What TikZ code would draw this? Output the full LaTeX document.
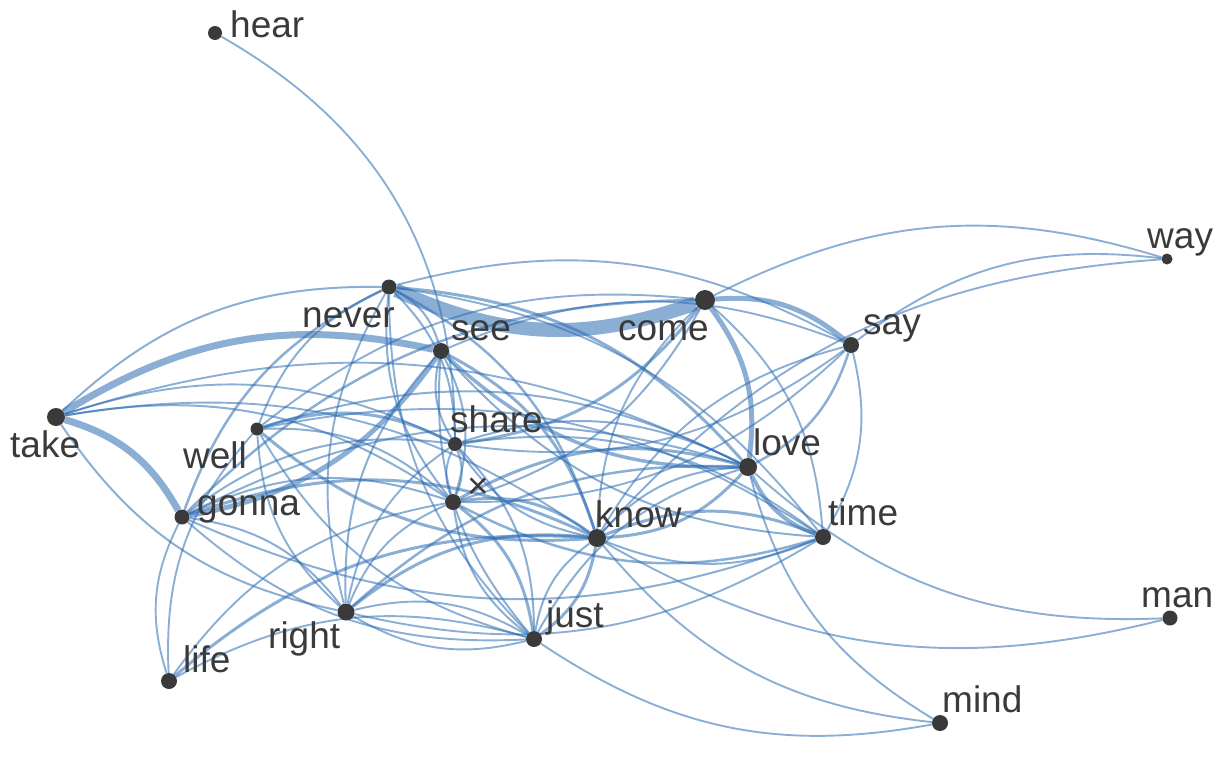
\documentclass[tikz,border=0pt]{standalone}
\usepackage{fontspec}
\setmainfont{Liberation Sans}
\usetikzlibrary{backgrounds}
\definecolor{edgeblue}{RGB}{44,108,178}
\definecolor{dotgray}{RGB}{58,58,58}

\begin{document}
\begin{tikzpicture}[
       x = 1pt, y = -1pt,
 word/.style = {circle, fill=dotgray, inner sep=0pt, minimum size=#1},
 word/.default = 16pt,
  tag/.style = {anchor=base west, inner sep=0pt, text=dotgray,
                font=\fontsize{37}{44}\selectfont},
 link/.style = {draw=edgeblue, draw opacity=0.55, line width=#1, bend left=22},
 link/.default = 1.9pt
                    ]
\useasboundingbox (0,0) rectangle (1228,758);
% words
\node (hear)  [word=14pt] at (215,33)  {};
\node (never) [word=15pt] at (389,287) {};
\node (come)  [word=20pt] at (705,300) {};
\node (say)   [word=16pt] at (851,345) {};
\node (way)   [word=11pt] at (1167,259) {};
\node (see)   [word=16pt] at (441,351) {};
\node (take)  [word=18pt] at (56,417)  {};
\node (well)  [word=13pt] at (257,429) {};
\node (share) [word=14pt] at (455,444) {};
\node (love)  [word=18pt] at (748,467) {};
\node (x)     [word=16pt] at (453,502) {};
\node (gonna) [word=15pt] at (182,517) {};
\node (know)  [word=18pt] at (597,538) {};
\node (time)  [word=16pt] at (823,537) {};
\node (man)   [word=15pt] at (1170,618) {};
\node (right) [word=17pt] at (346,612) {};
\node (just)  [word=16pt] at (534,639) {};
\node (life)  [word=16pt] at (169,681) {};
\node (mind)  [word=16pt] at (940,723) {};
% labels
\node (hear-l)  [tag] at (230,37)  {hear};
\node (never-l) [tag] at (302,327) {never};
\node (come-l)  [tag] at (618,340) {come};
\node (say-l)   [tag] at (863,334) {say};
\node (way-l)   [tag] at (1147,248) {way};
\node (see-l)   [tag] at (451,340) {see};
\node (take-l)  [tag] at (10,457)  {take};
\node (well-l)  [tag] at (183,468) {well};
\node (share-l) [tag] at (450,432) {share};
\node (love-l)  [tag] at (753,455) {love};
\node (x-l)     [tag, anchor=center] at (478,488) {×};
\node (gonna-l) [tag] at (197,515) {gonna};
\node (know-l)  [tag] at (595,527) {know};
\node (time-l)  [tag] at (828,525) {time};
\node (man-l)   [tag] at (1141,607) {man};
\node (right-l) [tag] at (268,648) {right};
\node (just-l)  [tag] at (546,627) {just};
\node (life-l)  [tag] at (183,672) {life};
\node (mind-l)  [tag] at (942,712) {mind};
% links
\begin{scope}[on background layer]
\draw[link, bend left=30] (hear) to (share);
\foreach \a/\b/\w in {come/never/14, take/see/7, take/gonna/7, see/gonna/5,
    come/say/5, come/love/5, time/love/4, love/see/3.5, never/love/3,
    take/never/2, come/way/1.9, say/way/1.9, know/way/1.9,
    man/love/1.9, man/know/1.9, mind/love/1.9, mind/know/1.9, mind/just/1.9,
    life/gonna/1.9, life/just/1.9, life/know/3, life/x/1.9, life/well/1.9,
    take/share/1.9, take/love/1.9, take/x/2, take/know/1.9, right/take/2,
    well/never/2, well/share/3, well/x/2, know/well/3, well/time/1.9,
    just/well/1.9, well/love/2, well/come/1.9, right/well/1.9,
    gonna/share/2, gonna/x/2, gonna/know/3, time/gonna/2, gonna/love/2,
    gonna/right/2, just/gonna/1.9, gonna/never/2.5, gonna/come/2.5,
    never/see/2, never/share/2, x/never/2, never/know/2.5, just/never/1.9,
    right/never/1.9, never/time/1.9, never/say/1.9,
    see/say/1.9, share/see/2, see/x/2, see/know/3, time/see/2,
    just/see/2, right/see/2,
    come/share/3, come/x/2, know/come/1.9, come/time/1.9,
    say/share/1.9, say/love/2.5, say/time/1.9, know/say/1.9, say/x/1.9,
    share/x/2, x/share/1.9, share/love/2, know/share/2, share/time/2,
    share/just/2, right/share/1.9,
    x/love/3, x/know/3, time/x/2.5, x/just/3, just/x/2, right/x/1.9,
    love/know/3, know/love/2, just/love/2, right/love/2.5,
    know/time/3, time/know/2, know/just/3, just/know/2, right/know/3,
    time/right/1.9, right/just/1.9, just/right/1.9}
  \draw[link=\w pt] (\a) to (\b);
\end{scope}
\end{tikzpicture}
\end{document}
